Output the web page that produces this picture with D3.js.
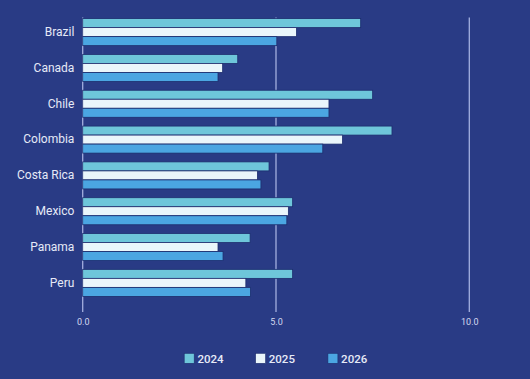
<!DOCTYPE html>
<html>
<head>
<meta charset="utf-8">
<script src="https://cdn.jsdelivr.net/npm/d3@7"></script>
<style>
  html, body { margin: 0; padding: 0; background: #293b85; }
  svg { display: block; }
</style>
</head>
<body>
<svg id="chart" width="530" height="379"></svg>
<script>
const categories = ["Brazil", "Canada", "Chile", "Colombia", "Costa Rica", "Mexico", "Panama", "Peru"];
const seriesNames = ["2024", "2025", "2026"];
const values2024 = [7.19, 4.01, 7.50, 8.00, 4.82, 5.43, 4.33, 5.43];
const values2025 = [5.53, 3.62, 6.37, 6.72, 4.52, 5.32, 3.50, 4.22];
const values2026 = [5.02, 3.50, 6.37, 6.21, 4.61, 5.28, 3.63, 4.34];
const xTicks = [0, 5, 10];
const colors = ["#6ec6da", "#eaf6fb", "#4ba6e2"];

const series = [values2024, values2025, values2026];
const svg = d3.select("#chart");

svg.append("rect").attr("width", 530).attr("height", 379).attr("fill", "#293b85");

const x = d3.scaleLinear().domain([0, 10]).range([82.7, 469.3]);
const y = d3.scaleBand().domain(categories).range([14.3, 300.7]).paddingInner(0.245).paddingOuter(0.12);
const ySub = d3.scaleBand().domain(seriesNames).range([0, y.bandwidth()]);

// gridlines (under the bars)
const gridTop = 17.6, gridBottom = 312;
svg.append("g").selectAll("line").data(xTicks).join("line")
  .attr("x1", d => x(d)).attr("x2", d => x(d))
  .attr("y1", gridTop).attr("y2", gridBottom)
  .attr("stroke", "#a3afdf").attr("stroke-width", 1.3);

// bars
const g = svg.append("g");
categories.forEach((c, i) => {
  seriesNames.forEach((s, j) => {
    g.append("rect")
      .attr("x", x(0))
      .attr("y", y(c) + ySub(s))
      .attr("width", x(series[j][i]) - x(0))
      .attr("height", ySub.bandwidth())
      .attr("fill", colors[j])
      .attr("stroke", "#1d2d6e")
      .attr("stroke-width", 0.8);
  });
});

// x axis labels
const xAxis = d3.axisBottom(x).tickValues(xTicks).tickFormat(d3.format(".1f")).tickSize(0).tickPadding(0);
const xa = svg.append("g").attr("transform", `translate(0,${319})`).call(xAxis);
xa.select(".domain").remove();
xa.selectAll("text").attr("fill", "#d3d9f0").attr("font-family", "Roboto").attr("font-size", 9).attr("dy", "0.71em");

// y axis labels
const yAxis = d3.axisLeft(y).tickSize(0).tickPadding(0);
const ya = svg.append("g").attr("transform", `translate(74.4,0)`).call(yAxis);
ya.select(".domain").remove();
ya.selectAll("text").attr("fill", "#e6eaf7").attr("font-family", "Roboto").attr("font-size", 12);

// legend
const legendX = [184.2, 255.6, 327.9];
const lg = svg.append("g");
seriesNames.forEach((s, j) => {
  lg.append("rect").attr("x", legendX[j]).attr("y", 353.3).attr("width", 10).attr("height", 10)
    .attr("fill", colors[j]).attr("stroke", "#1d2d6e").attr("stroke-width", 0.6);
  lg.append("text").attr("x", legendX[j] + 13.2).attr("y", 362.6)
    .attr("fill", "#e6eaf7").attr("font-family", "Roboto").attr("font-size", 11.5).attr("font-weight", 500)
    .text(s);
});
</script>
</body>
</html>
